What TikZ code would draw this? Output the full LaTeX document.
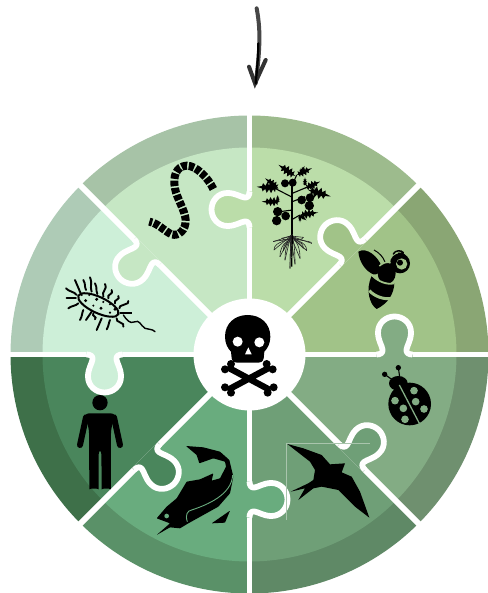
\documentclass[tikz,border=0pt]{standalone}
\definecolor{outera}{HTML}{9DBB8D}\definecolor{innera}{HTML}{BBDDA9}
\definecolor{outerb}{HTML}{8AA674}\definecolor{innerb}{HTML}{A1C388}
\definecolor{outerc}{HTML}{6F906F}\definecolor{innerc}{HTML}{83AC84}
\definecolor{outerd}{HTML}{5F8966}\definecolor{innerd}{HTML}{6F9F77}
\definecolor{outere}{HTML}{5A9168}\definecolor{innere}{HTML}{69AC7E}
\definecolor{outerf}{HTML}{3E7049}\definecolor{innerf}{HTML}{4A865C}
\definecolor{outerg}{HTML}{AECBB6}\definecolor{innerg}{HTML}{CDEFD8}
\definecolor{outerh}{HTML}{A7C3A7}\definecolor{innerh}{HTML}{C6E7C4}
\tikzset{
  zoomed/.style 2 args={shift={(#1-249.5,354.5-#2)},x=.33333pt,y=-.33333pt},
  gapline/.style={white,line width=5.8pt},
  icon/.style={fill=black,draw=none,rounded corners=.6pt},
  hair/.style={black,line width=1.9pt,line cap=round},
  rootline/.style={black!85,line width=.6pt,line cap=round}
}
\newcommand{\tabopen}{(18,0) .. controls (14,0) and (11.5,1.5) .. (12,5) .. controls (12.5,9) and (16.5,14) .. (16.5,22) .. controls (16.5,32) and (8,38) .. (0,38) .. controls (-8,38) and (-16.5,32) .. (-16.5,22) .. controls (-16.5,14) and (-12.5,9) .. (-12,5) .. controls (-11.5,1.5) and (-14,0) .. (-18,0)}
\newcommand{\leaf}[4]{\begin{scope}[shift={(#1,#2)},rotate=#3,xscale=#4,yscale=#4*.62]
  \fill[black] (0,0) -- (1.2,.6) -- (1.4,3) -- (2.4,1) -- (3.2,4) -- (4.2,1.2) -- (5.2,4) -- (6,1.2) -- (7.2,3) -- (7.6,.9) -- (10,0) -- (7.6,-.9) -- (7.2,-3) -- (6,-1.2) -- (5.2,-4) -- (4.2,-1.2) -- (3.2,-4) -- (2.4,-1) -- (1.4,-3) -- (1.2,-.6) -- cycle;
\end{scope}}
\begin{document}
\begin{tikzpicture}[x=1pt,y=1pt]
\useasboundingbox (-249.5,-238.5) rectangle (237.5,354.5);
% wedges
\foreach \n/\a in {a/90,b/45,c/0,d/-45,e/-90,f/-135,g/180,h/135}{
  \pgfmathsetmacro{\b}{\a-45}
  \fill[outer\n] (0,0) -- (\a:239) arc[start angle=\a,end angle=\b,radius=239] -- cycle;
  \fill[inner\n] (0,0) -- (\a:207) arc[start angle=\a,end angle=\b,radius=207] -- cycle;
}
\foreach \a in {0,45,...,315}{\draw[gapline] (0,0) -- (\a:245);}
% puzzle tabs
\foreach \n/\a in {a/90,b/45,c/0,d/-45,e/-90,f/-135,g/180,h/135}{
  \begin{scope}[rotate=\a,shift={(145,0)}]
    \fill[inner\n] \tabopen -- (-18,-3) -- (18,-3) -- cycle;
    \draw[gapline,line join=round] \tabopen;
  \end{scope}
}
\fill[white] (0,0) circle[radius=56];
% arrow
\begin{scope}[zoomed={225}{0}]
  \draw[black!72,line width=4pt,line cap=round,line join=round] (95,25) .. controls (105,80) and (108,130) .. (92,250);
  \draw[black!80,line width=4pt,line cap=round] (72,200) -- (90,250) -- (122,180);
  \draw[black,line width=2.2pt,line cap=round] (100,130) .. controls (100,170) and (96,210) .. (92,250);
\end{scope}
% skull
\begin{scope}[zoomed={215}{310}]
  \fill[black] (98,15) .. controls (60,15) and (30,40) .. (30,80) .. controls (30,100) and (38,115) .. (48,125) -- (50,145) .. controls (52,155) and (58,158) .. (70,158) -- (126,158) .. controls (138,158) and (144,155) .. (146,145) -- (148,125) .. controls (158,115) and (166,100) .. (166,80) .. controls (166,40) and (136,15) .. (98,15) -- cycle;
  \fill[white] (68,95) circle[radius=15] (133,97) circle[radius=15];
  \fill[white] (100,112) -- (110,133) -- (90,133) -- cycle;
  \draw[black,line width=6.3pt] (38,172) -- (165,240) (165,172) -- (38,240);
  \fill[black] (30,178) circle[radius=12] (48,162) circle[radius=12] (158,248) circle[radius=12] (176,232) circle[radius=12]
    (155,162) circle[radius=12] (173,178) circle[radius=12] (30,232) circle[radius=12] (48,248) circle[radius=12];
\end{scope}
% tomato plant
\begin{scope}[zoomed={250}{160}]
  \draw[black,line width=1.8pt] (127,75) -- (127,225);
  \draw[black,line width=1.1pt] (127,112) -- (75,85) (127,100) -- (170,82) (127,150) -- (90,155) (127,178) -- (150,165) (127,125) -- (165,110) (127,75) -- (140,45);
  \leaf{135}{48}{146}{6}\leaf{140}{45}{24}{5}\leaf{150}{42}{60}{2.8}
  \leaf{85}{85}{176}{6.5}\leaf{85}{85}{143}{5}
  \leaf{175}{90}{-16}{7}\leaf{165}{85}{24}{5}\leaf{165}{78}{90}{2.6}
  \leaf{90}{125}{180}{5.5}\leaf{85}{125}{100}{2}
  \leaf{150}{165}{8}{5.5}\leaf{150}{165}{-90}{2.2}\leaf{150}{165}{-40}{2.5}
  \fill[black] (105,70) circle[radius=12] (128,68) circle[radius=12]
    (155,120) circle[radius=13] (180,113) circle[radius=13] (178,137) circle[radius=14]
    (83,155) circle[radius=14] (107,168) circle[radius=13] (80,182) circle[radius=14];
  \foreach \ex/\ey in {70/245,72/270,90/290,100/272,105/300,120/325,125/290,135/312,150/295,160/265,170/272,185/250,95/235,160/232}{
    \draw[rootline] (127,225) .. controls (127,245) and (\ex,240) .. (\ex,\ey);
    \draw[rootline] (122,228) -- (\ex,\ey);
  }
  \draw[black,line width=1.2pt] (127,225) -- (125,320);
\end{scope}
% bee
\begin{scope}[zoomed={350}{240}]
  \fill[black] (25,35) .. controls (50,20) and (85,50) .. (95,80) .. controls (90,100) and (80,105) .. (70,103) .. controls (50,95) and (28,70) .. (25,35) -- cycle;
  \draw[black,line width=1pt] (72,30) .. controls (88,38) and (100,52) .. (105,66);
  \fill[black] (110,100) ellipse[x radius=27,y radius=32];
  \fill[black] (150,70) circle[radius=30];
  \fill[innerb] (155,72) circle[radius=17];
  \fill[black] (150,68) circle[radius=9];
  \draw[black,line width=1.5pt,line cap=round] (130,42) .. controls (135,30) and (155,30) .. (160,38) (145,40) .. controls (152,38) and (162,40) .. (165,47);
  \draw[innerb,line width=1.5pt] (88,78) .. controls (100,68) and (110,65) .. (122,68);
  \fill[black] (65,108) .. controls (85,125) and (110,135) .. (133,130) .. controls (132,160) and (115,190) .. (80,207) .. controls (60,195) and (45,150) .. (65,108) -- cycle;
  \draw[innerb,line width=3pt] (58,152) .. controls (75,170) and (100,178) .. (123,176);
  \draw[innerb,line width=1.8pt] (66,106) .. controls (85,125) and (110,135) .. (133,130);
\end{scope}
% ladybug
\begin{scope}[zoomed={240}{340}]
  \draw[black,line width=1.1pt] (465,125) -- (434,103) (480,118) -- (475,83);
  \fill[black] (434,103) circle[radius=8] (475,83) circle[radius=8];
  \fill[black] (475,130) ellipse[x radius=28,y radius=22];
  \fill[black] (509,192) circle[radius=64];
  \draw[innerc,line width=1.3pt] (478,135) -- (538,250);
  \fill[innerc] (522,152) circle[radius=11.5] (465,182) circle[radius=11.5] (527,185) circle[radius=11.5]
    (490,205) circle[radius=11.5] (552,207) circle[radius=11.5] (495,238) circle[radius=11.5];
\end{scope}
% swallow
\begin{scope}[zoomed={280}{435}]
  \draw[innerd!60!white,line width=.7pt] (270,25) -- (20,25) -- (20,255);
  \fill[black] (22,27) -- (70,40) -- (125,60) -- (150,88) -- (195,85) -- (185,112) -- (215,125) -- (240,170) -- (268,248) -- (225,215) -- (175,165) -- (125,155) -- (100,160) -- (55,195) -- (75,160) -- (32,170) -- (85,145) -- (100,135) -- (105,105) -- (90,80) -- cycle;
\end{scope}
% fish
\begin{scope}[zoomed={150}{440}]
  \fill[icon] (108,18) -- (160,22) -- (210,35) -- (238,60) -- (250,110) -- (240,160) -- (205,200) -- (160,225) -- (115,250) -- (90,265) -- (60,262) -- (20,285) -- (60,250) -- (20,235) -- (50,200) -- (80,175) -- (110,125) -- (150,118) -- (190,100) -- (185,122) -- (210,115) -- (228,80) -- (225,65) -- (190,55) -- (148,70) -- (140,45) -- cycle;
  \fill[icon] (185,250) -- (240,212) -- (225,248) -- cycle;
  \draw[innere,line width=.9pt] (112,245) .. controls (105,225) and (112,212) .. (125,210) .. controls (170,195) and (245,165) .. (248,105);
  \fill[innere] (50,228) circle[radius=7];
\end{scope}
% human
\begin{scope}[zoomed={0}{340}]
  \fill[black] (300,188) circle[radius=23];
  \fill[black,rounded corners=6pt] (250,220) -- (350,220) -- (333,262) -- (333,430) .. controls (333,445) and (305,445) .. (305,430) -- (304,325) -- (296,325) -- (296,430) .. controls (296,445) and (268,445) .. (268,430) -- (267,262) -- cycle;
  \draw[black,line width=6pt,line cap=round,line join=round] (258,232) -- (240,315) (342,232) -- (360,315);
\end{scope}
% bacteria
\begin{scope}[zoomed={60}{270}]
  \draw[black,line width=2pt,rotate around={-25:(115,105)}] (115,105) ellipse[x radius=66,y radius=24];
  \foreach \sx/\sy/\ex/\ey in {62/70/45/30,78/60/70/30,95/65/90/22,112/72/105/40,130/80/135/42,145/85/155/60,165/100/175/78,178/115/205/93,50/75/18/55,48/85/20/85,55/100/25/115,70/120/60/150,95/125/78/150,100/130/105/148,125/145/110/180,150/150/140/178,170/145/190/170,180/130/215/130}{
    \draw[hair] (\sx,\sy) .. controls (\sx-6,{(\sy+\ey)/2}) and (\ex+8,{(\sy+\ey)/2}) .. (\ex,\ey);
  }
  \draw[black,line width=1.4pt,line cap=round] (190,135) .. controls (200,150) and (210,162) .. (222,156) .. controls (240,148) and (240,165) .. (255,175) .. controls (265,180) and (275,175) .. (285,185);
  \fill[black] (65,75) circle[radius=3.5] (88,75) circle[radius=3.5] (77,92) circle[radius=5] (110,88) circle[radius=5] (130,96) circle[radius=3.5] (150,103) circle[radius=3.5] (100,107) circle[radius=3.5] (123,115) circle[radius=5] (165,118) circle[radius=5] (150,128) circle[radius=3.5];
\end{scope}
% worm
\begin{scope}[zoomed={140}{155}]
  \draw[black,line width=8pt,dash pattern=on 5.6pt off 1.7pt] (220,102) .. controls (205,70) and (170,32) .. (140,32) .. controls (108,34) and (98,65) .. (105,100) .. controls (110,130) and (135,165) .. (137,195) .. controls (138,225) and (115,245) .. (95,238) .. controls (75,230) and (55,205) .. (28,200);
\end{scope}
\end{tikzpicture}
\end{document}
